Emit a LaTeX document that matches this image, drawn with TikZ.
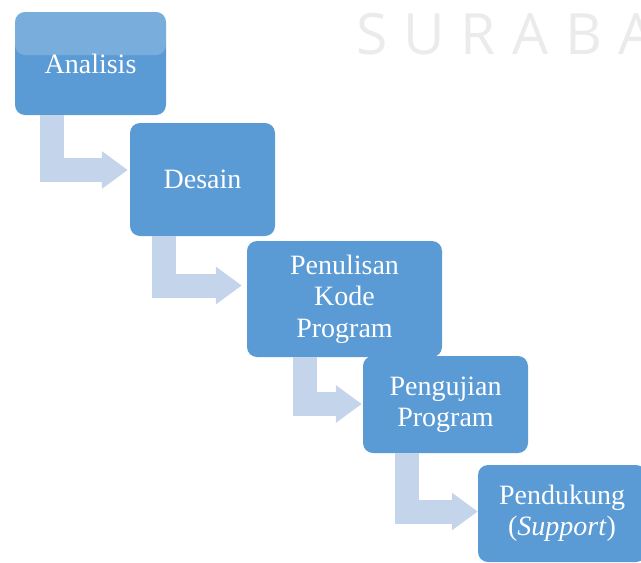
\documentclass[tikz,border=0pt]{standalone}
\usepackage{fontspec}
\setmainfont{Liberation Serif}
\newfontfamily\wmfont{Open Sans}
\usetikzlibrary{arrows.meta}
\definecolor{boxblue}{HTML}{5B9BD5}
\definecolor{arrowblue}{HTML}{C4D4EA}
\definecolor{wmgray}{HTML}{EBEBEB}
\tikzset{
  stepbox/.style={draw=none, fill=boxblue, rounded corners=10pt, text=white,
    align=center, inner sep=0pt, font=\fontsize{28}{31.5}\selectfont},
  flow/.style={draw=arrowblue, line width=24pt, line join=miter,
    -{Triangle[width=36pt,length=26pt]}},
}
\begin{document}
\begin{tikzpicture}[x=1pt,y=-1pt]
\useasboundingbox (0,0) rectangle (641,563);
\clip (0,0) rectangle (641,563);
\node[anchor=base west, inner sep=0pt, text=wmgray, font=\wmfont\fontsize{57}{57}\selectfont] (wm) at (345,54)
  {\makebox[53pt]{S}\makebox[53pt]{U}\makebox[53pt]{R}\makebox[53pt]{A}\makebox[53pt]{B}\makebox[53pt]{A}};
\node[stepbox, minimum width=151pt, minimum height=103pt,
  path picture={\fill[white,opacity=0.18] (path picture bounding box.north west) rectangle ([yshift=-43pt]path picture bounding box.north east);}]
  (a) at (90.5,63.5) {Analisis};
\node[stepbox, minimum width=145pt, minimum height=113pt] (b) at (202.5,179.5) {Desain};
\node[stepbox, minimum width=195pt, minimum height=116pt] (c) at (344.5,299) {Penulisan\\Kode\\Program};
\node[stepbox, minimum width=165pt, minimum height=97pt] (d) at (445.5,404.5) {Pengujian\\Program};
\node[stepbox, minimum width=168pt, minimum height=97pt] (e) at (562,513.5) {Pendukung\\(\textit{Support})};
\draw[flow] ([xshift=37pt]a.south west) |- ([xshift=-2pt,yshift=9.5pt]b.west);
\draw[flow] ([xshift=34.5pt]b.south west) |- ([xshift=-5pt,yshift=13.5pt]c.west);
\draw[flow] ([xshift=58.5pt]c.south west) |- ([xshift=-1pt,yshift=0.5pt]d.west);
\draw[flow] ([xshift=44.5pt]d.south west) |- ([yshift=2pt]e.west);
\end{tikzpicture}
\end{document}
